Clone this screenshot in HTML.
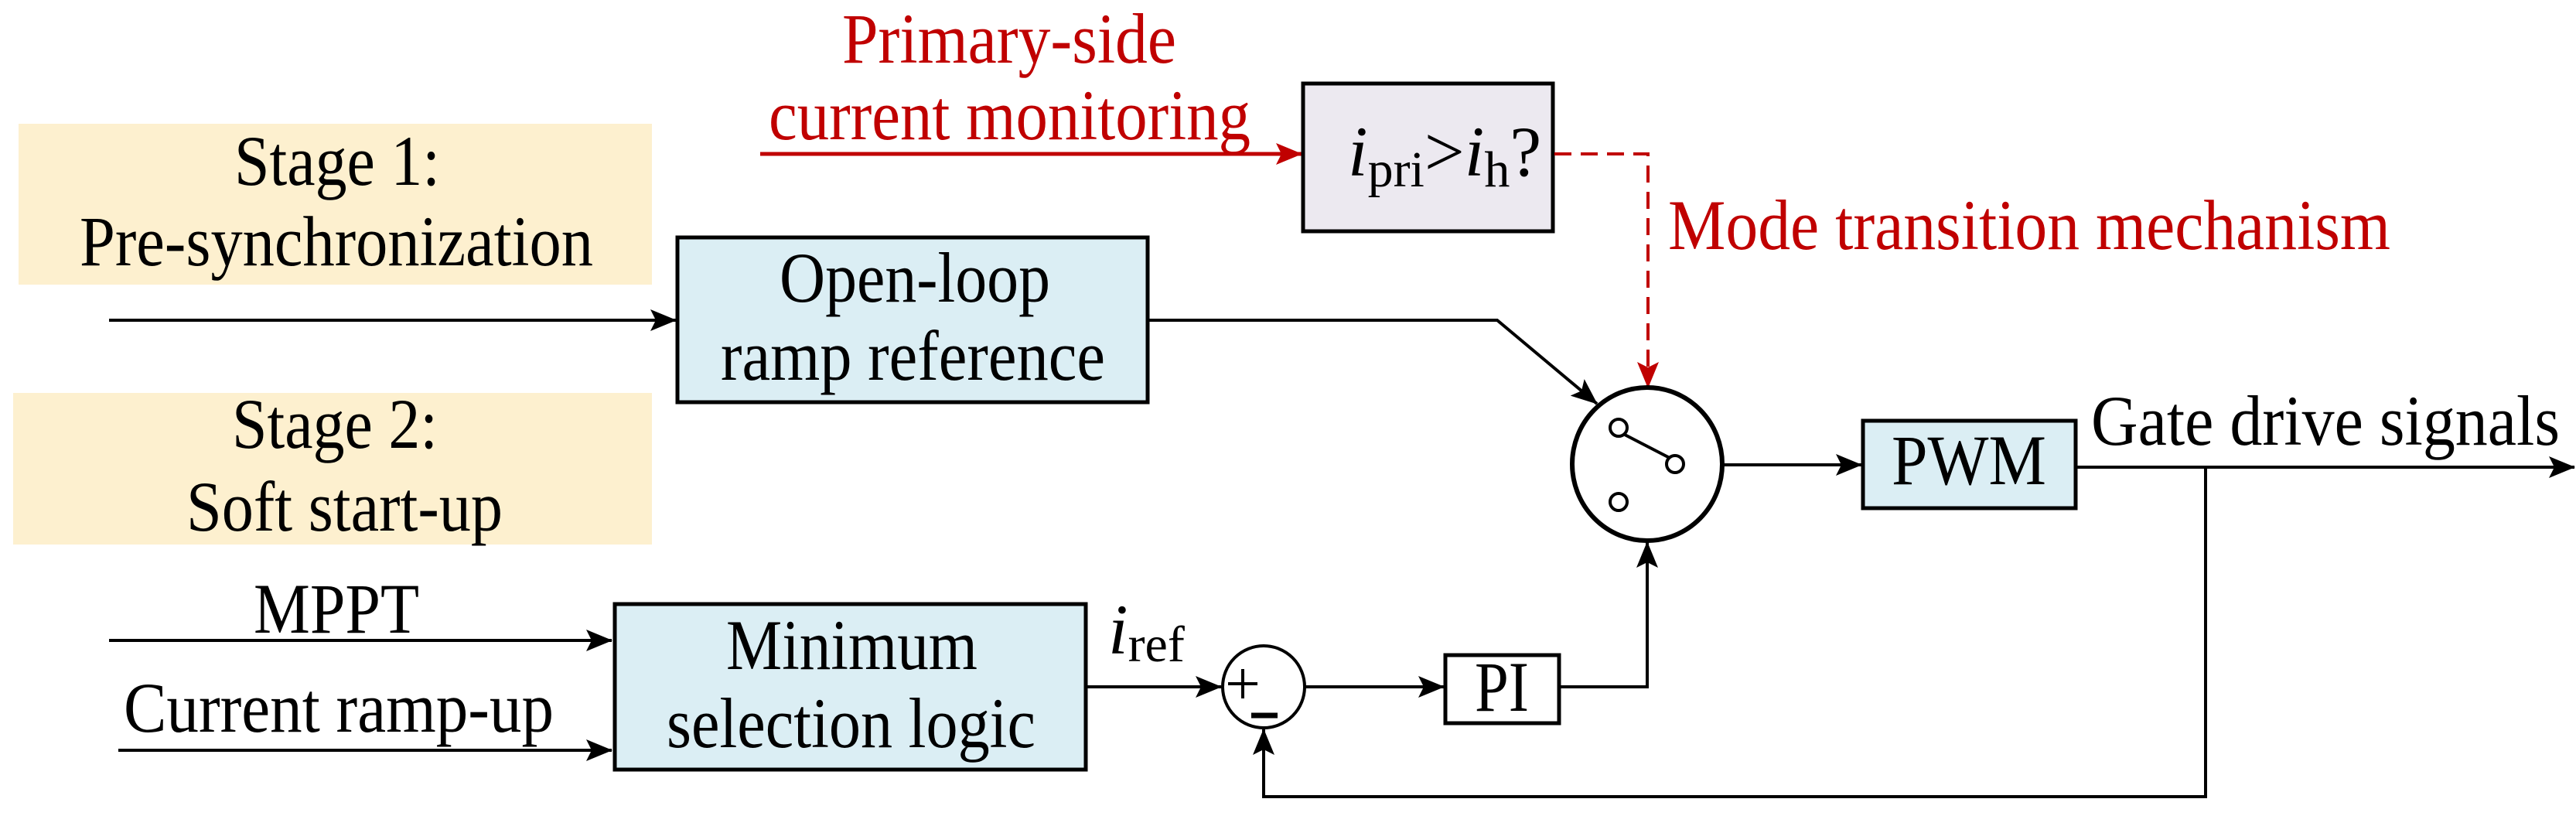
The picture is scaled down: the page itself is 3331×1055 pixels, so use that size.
<!DOCTYPE html>
<html><head><meta charset="utf-8"><style>html,body{margin:0;padding:0;background:#fff}svg{display:block}svg text{font-family:"Liberation Serif","Times New Roman","DejaVu Serif",Times,serif;}</style></head>
<body>
<svg width="3331" height="1055" viewBox="0 0 3331 1055" xmlns="http://www.w3.org/2000/svg" font-size="92">
<defs>
<marker id="a" markerWidth="34" markerHeight="28" refX="33" refY="14" orient="auto" markerUnits="userSpaceOnUse"><path d="M0,0 L34,14 L0,28 L7,14 Z" fill="#000"/></marker>
<marker id="r" markerWidth="34" markerHeight="28" refX="33" refY="14" orient="auto" markerUnits="userSpaceOnUse"><path d="M0,0 L34,14 L0,28 L7,14 Z" fill="#c00000"/></marker>
</defs>
<rect x="24" y="160" width="819" height="208" fill="#fdf0cf"/>
<rect x="17" y="508" width="826" height="196" fill="#fdf0cf"/>
<text x="303" y="239" textLength="266" lengthAdjust="spacingAndGlyphs">Stage 1:</text>
<text x="103" y="343" textLength="664" lengthAdjust="spacingAndGlyphs">Pre-synchronization</text>
<text x="300" y="579" textLength="266" lengthAdjust="spacingAndGlyphs">Stage 2:</text>
<text x="241" y="686" textLength="409" lengthAdjust="spacingAndGlyphs">Soft start-up</text>
<text x="1089" y="81" fill="#c00000" textLength="432" lengthAdjust="spacingAndGlyphs">Primary-side</text>
<text x="994" y="180" fill="#c00000" textLength="623" lengthAdjust="spacingAndGlyphs">current monitoring</text>
<line x1="983" y1="199" x2="1683" y2="199" stroke="#c00000" stroke-width="5" marker-end="url(#r)"/>
<rect x="1685" y="108" width="323" height="191" fill="#ece9f0" stroke="#000" stroke-width="5"/>
<text x="1743" y="227"><tspan font-style="italic">i</tspan><tspan font-size="66" dy="14">pri</tspan><tspan dy="-14">&gt;</tspan><tspan font-style="italic">i</tspan><tspan font-size="66" dy="14">h</tspan><tspan dy="-14">?</tspan></text>
<polyline points="2010,199 2131,199 2131,501" fill="none" stroke="#c00000" stroke-width="4" stroke-dasharray="22,12" marker-end="url(#r)"/>
<text x="2157" y="322" fill="#c00000" textLength="934" lengthAdjust="spacingAndGlyphs">Mode transition mechanism</text>
<line x1="141" y1="414" x2="874" y2="414" stroke="#000" stroke-width="4" marker-end="url(#a)"/>
<rect x="876" y="307" width="608" height="213" fill="#dbeef4" stroke="#000" stroke-width="5"/>
<text x="1008" y="390" textLength="350" lengthAdjust="spacingAndGlyphs">Open-loop</text>
<text x="932" y="491" textLength="497" lengthAdjust="spacingAndGlyphs">ramp reference</text>
<polyline points="1484,414 1936,414 2065,522" fill="none" stroke="#000" stroke-width="4" marker-end="url(#a)"/>
<ellipse cx="2130" cy="600" rx="97" ry="99" fill="#fff" stroke="#000" stroke-width="6"/>
<line x1="2099" y1="561" x2="2159" y2="592" stroke="#000" stroke-width="4"/>
<circle cx="2093" cy="553" r="11" fill="#fff" stroke="#000" stroke-width="4"/>
<circle cx="2166" cy="600" r="11" fill="#fff" stroke="#000" stroke-width="4"/>
<circle cx="2093" cy="649" r="11" fill="#fff" stroke="#000" stroke-width="4"/>
<line x1="2228" y1="601" x2="2407" y2="601" stroke="#000" stroke-width="4" marker-end="url(#a)"/>
<rect x="2409" y="544" width="275" height="113" fill="#dbeef4" stroke="#000" stroke-width="5"/>
<text x="2546" y="626" text-anchor="middle" textLength="200" lengthAdjust="spacingAndGlyphs">PWM</text>
<line x1="2684" y1="604" x2="3329" y2="604" stroke="#000" stroke-width="4" marker-end="url(#a)"/>
<text x="2704" y="575" textLength="606" lengthAdjust="spacingAndGlyphs">Gate drive signals</text>
<text x="328" y="818" textLength="214" lengthAdjust="spacingAndGlyphs">MPPT</text>
<line x1="141" y1="828" x2="791" y2="828" stroke="#000" stroke-width="4" marker-end="url(#a)"/>
<text x="160" y="946" textLength="556" lengthAdjust="spacingAndGlyphs">Current ramp-up</text>
<line x1="153" y1="970" x2="791" y2="970" stroke="#000" stroke-width="4" marker-end="url(#a)"/>
<rect x="795" y="781" width="609" height="214" fill="#dbeef4" stroke="#000" stroke-width="5"/>
<text x="939" y="865" textLength="325" lengthAdjust="spacingAndGlyphs">Minimum</text>
<text x="862" y="966" textLength="477" lengthAdjust="spacingAndGlyphs">selection logic</text>
<text x="1433" y="845"><tspan font-style="italic">i</tspan><tspan font-size="66" dy="10">ref</tspan></text>
<line x1="1404" y1="888" x2="1579" y2="888" stroke="#000" stroke-width="4" marker-end="url(#a)"/>
<circle cx="1634" cy="888" r="53" fill="#fff" stroke="#000" stroke-width="4"/>
<line x1="1588" y1="884" x2="1626" y2="884" stroke="#000" stroke-width="4"/>
<line x1="1607" y1="865" x2="1607" y2="903" stroke="#000" stroke-width="4"/>
<line x1="1618" y1="925" x2="1652" y2="925" stroke="#000" stroke-width="7"/>
<line x1="1687" y1="888" x2="1867" y2="888" stroke="#000" stroke-width="4" marker-end="url(#a)"/>
<rect x="1869" y="847" width="147" height="88" fill="#fff" stroke="#000" stroke-width="5"/>
<text x="1942" y="919" text-anchor="middle" textLength="70" lengthAdjust="spacingAndGlyphs">PI</text>
<polyline points="2016,888 2130,888 2130,701" fill="none" stroke="#000" stroke-width="4" marker-end="url(#a)"/>
<polyline points="2852,604 2852,1030 1634,1030 1634,943" fill="none" stroke="#000" stroke-width="4" marker-end="url(#a)"/>
</svg>
</body></html>
